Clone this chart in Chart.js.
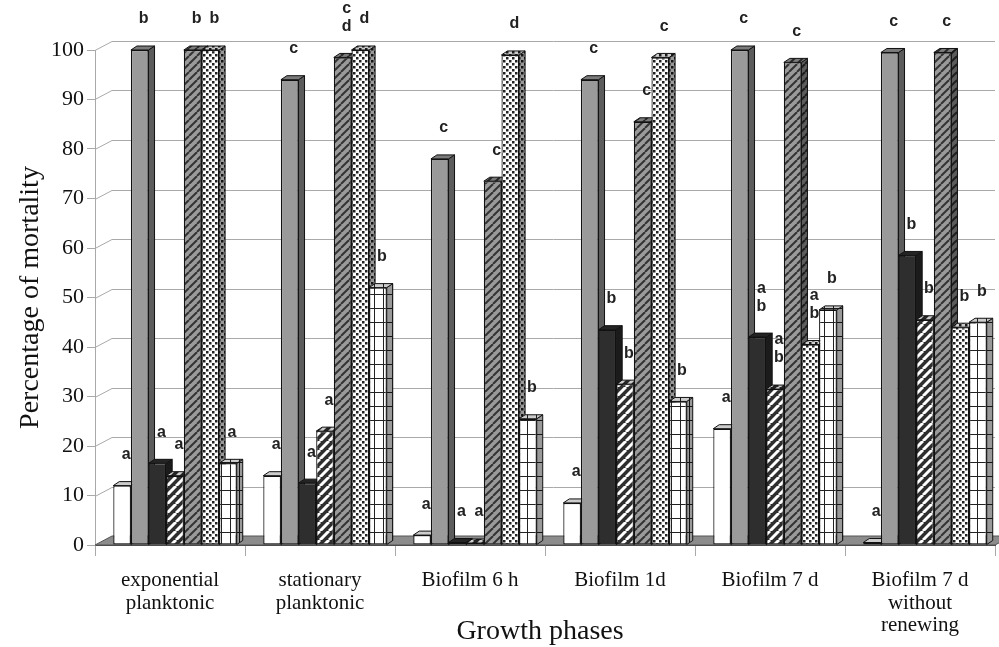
<!DOCTYPE html>
<html><head><meta charset="utf-8">
<script src="https://cdn.jsdelivr.net/npm/chart.js@4.4.1/dist/chart.umd.min.js"></script>
<style>html,body{margin:0;padding:0;background:#fff;overflow:hidden}canvas{display:block}</style>
</head><body>
<canvas id="c" width="999" height="647"></canvas>
<script>
// ---- data ----
const categories = [['exponential','planktonic'], ['stationary','planktonic'], 'Biofilm 6 h', 'Biofilm 1d', 'Biofilm 7 d', ['Biofilm 7 d','without','renewing']];
const yTickValues = [0,10,20,30,40,50,60,70,80,90,100];

const series1 = [12, 14, 2, 8.5, 23.5, 0.5];
const series2 = [100, 94, 78, 94, 100, 99.5];
const series3 = [16.5, 12.5, 0.5, 43.5, 42, 58.5];
const series4 = [14, 23, 0.4, 32.5, 31.5, 45.5];
const series5 = [100, 98.5, 73.5, 85.5, 97.5, 99.5];
const series6 = [100, 100, 99, 98.5, 40.5, 44];
const series7 = [16.5, 52, 25.5, 29, 47.5, 45];

const letters1 = ['a','a','a','a','a','a'];
const letters2 = ['b','c','c','c','c','c'];
const letters3 = ['a','a','a','b','a\nb','b'];
const letters4 = ['a','a','a','b','a\nb','b'];
const letters5 = ['b','c\nd','c','c','c','c'];
const letters6 = ['b','d','d','c','a\nb','b'];
const letters7 = ['a','b','b','b','b','b'];

const allSeries = [series1, series2, series3, series4, series5, series6, series7];
const allLetters = [letters1, letters2, letters3, letters4, letters5, letters6, letters7];

// ---- patterns ----
const canvas = document.getElementById('c');
const ctx = canvas.getContext('2d');
function tile(w, h, draw) { const c = document.createElement('canvas'); c.width = w; c.height = h; draw(c.getContext('2d'), w, h); return ctx.createPattern(c, 'repeat'); }
const GRAY = '#9a9a9a', DARK = '#2e2e2e';
const patWhite = '#ffffff';
const patGray = GRAY;
const patDark = DARK;
const patDarkHatch = tile(9, 9, (g, w, h) => {
  g.fillStyle = DARK; g.fillRect(0, 0, w, h);
  g.strokeStyle = '#ffffff'; g.lineWidth = 3;
  for (let k = -1; k <= 1; k++) { g.beginPath(); g.moveTo(k*w, h); g.lineTo(k*w + w, 0); g.stroke(); }
});
const patGrayHatch = tile(8, 8, (g, w, h) => {
  g.fillStyle = GRAY; g.fillRect(0, 0, w, h);
  g.strokeStyle = '#333333'; g.lineWidth = 2;
  for (let k = -1; k <= 1; k++) { g.beginPath(); g.moveTo(k*w, h); g.lineTo(k*w + w, 0); g.stroke(); }
});
const patDots = tile(6, 6, (g, w, h) => {
  g.fillStyle = '#ffffff'; g.fillRect(0, 0, w, h);
  g.fillStyle = '#222'; g.fillRect(0, 0, 2.5, 2.5); g.fillRect(3, 3, 2.5, 2.5);
});
const patGrid = tile(9, 14, (g, w, h) => {
  g.fillStyle = '#ffffff'; g.fillRect(0, 0, w, h);
  g.fillStyle = '#222'; g.fillRect(0, 0, w, 1); g.fillRect(0, 0, 1, h);
});
const fills = [patWhite, patGray, patDark, patDarkHatch, patGrayHatch, patDots, patGrid];

// ---- 3D helpers ----
const DX = 6, DY = 4, SHIFT = 5, WALL_DX = 17, WALL_DY = 9;

const wallsPlugin = {
  id: 'walls3d',
  beforeDatasetsDraw(chart) {
    const c = chart.ctx, a = chart.chartArea, ys = chart.scales.y;
    c.save();
    // floor
    c.beginPath();
    c.moveTo(a.left, a.bottom); c.lineTo(a.right, a.bottom);
    c.lineTo(a.right + WALL_DX, a.bottom - WALL_DY); c.lineTo(a.left + WALL_DX, a.bottom - WALL_DY);
    c.closePath(); c.fillStyle = '#8c8c8c'; c.fill();
    c.strokeStyle = '#555'; c.lineWidth = 1; c.stroke();
    // walls grid
    c.strokeStyle = '#a9a9a9'; c.lineWidth = 1;
    yTickValues.forEach(v => {
      if (v === 0) return;
      const py = Math.round(ys.getPixelForValue(v)) + 0.5;
      c.beginPath(); c.moveTo(a.left, py); c.lineTo(a.left + WALL_DX, py - WALL_DY); c.lineTo(a.right, py - WALL_DY); c.stroke();
    });
    c.restore();
    c.save();
    c.translate(SHIFT, 0);
    // 3D sides and tops, left to right within each group
    chart.data.datasets.forEach((ds, i) => {
      const meta = chart.getDatasetMeta(i);
      meta.data.forEach(bar => {
        const p = bar.getProps(['x','y','base','width'], true);
        const x0 = p.x - p.width/2, x1 = p.x + p.width/2, yt = p.y, yb = p.base;
        c.beginPath(); c.moveTo(x1, yt); c.lineTo(x1 + DX, yt - DY); c.lineTo(x1 + DX, yb - DY); c.lineTo(x1, yb); c.closePath();
        c.fillStyle = fills[i]; c.fill(); c.fillStyle = 'rgba(0,0,0,0.4)'; c.fill();
        c.strokeStyle = '#111'; c.lineWidth = 1; c.stroke();
        c.beginPath(); c.moveTo(x0, yt); c.lineTo(x0 + DX, yt - DY); c.lineTo(x1 + DX, yt - DY); c.lineTo(x1, yt); c.closePath();
        c.fillStyle = fills[i]; c.fill(); c.fillStyle = 'rgba(0,0,0,0.2)'; c.fill();
        c.stroke();
      });
    });
  },
  afterDatasetsDraw(chart) {
    const c = chart.ctx;
    c.restore();
    c.save();
    c.font = 'bold 16px "Liberation Sans", Arial, sans-serif';
    c.fillStyle = '#222'; c.textAlign = 'center'; c.textBaseline = 'middle';
    chart.data.datasets.forEach((ds, i) => {
      const meta = chart.getDatasetMeta(i);
      meta.data.forEach((bar, j) => {
        const lines = allLetters[i][j].split('\n');
        const p = bar.getProps(['x','y'], true);
        const x = p.x + SHIFT + 4;
        const yBottom = p.y - 31;
        lines.forEach((t, k) => { c.fillText(t, x, yBottom - (lines.length - 1 - k) * 18); });
      });
    });
    // x-axis title
    c.font = '28px "Liberation Serif", "Times New Roman", serif';
    c.fillStyle = '#111';
    c.fillText('Growth phases', 540, 632);
    c.restore();
  }
};

new Chart(ctx, {
  type: 'bar',
  data: {
    labels: categories,
    datasets: allSeries.map((s, i) => ({
      label: 'Series ' + (i + 1),
      data: s,
      backgroundColor: fills[i],
      borderColor: '#111',
      borderWidth: 1.2,
      borderSkipped: false,
      clip: false,
      categoryPercentage: 0.823,
      barPercentage: 1.0
    }))
  },
  options: {
    responsive: false,
    animation: false,
    devicePixelRatio: 1,
    layout: { padding: { top: 50, right: 4, left: 0, bottom: 0 } },
    plugins: { legend: { display: false }, tooltip: { enabled: false } },
    scales: {
      x: {
        grid: { drawOnChartArea: false, drawTicks: true, tickLength: 11, color: '#a9a9a9', offset: true },
        border: { display: true, color: '#444' },
        ticks: { font: { family: '"Liberation Serif", "Times New Roman", serif', size: 21, lineHeight: 1.08 }, color: '#111', padding: 13, maxRotation: 0, autoSkip: false },
        afterFit(s) { s.height = 102; }
      },
      y: {
        min: 0, max: 100,
        afterBuildTicks(s) { s.ticks = yTickValues.map(v => ({ value: v })); },
        grid: { drawOnChartArea: false, drawTicks: true, tickLength: 8, color: '#a9a9a9' },
        border: { display: true, color: '#a9a9a9' },
        ticks: { font: { family: '"Liberation Serif", "Times New Roman", serif', size: 22 }, color: '#111', padding: 3 },
        title: { display: true, text: 'Percentage of mortality', font: { family: '"Liberation Serif", "Times New Roman", serif', size: 28 }, color: '#111', padding: { top: 14, bottom: 0 } },
        afterFit(s) { s.width = 95; }
      }
    }
  },
  plugins: [wallsPlugin]
});
</script>
</body></html>
